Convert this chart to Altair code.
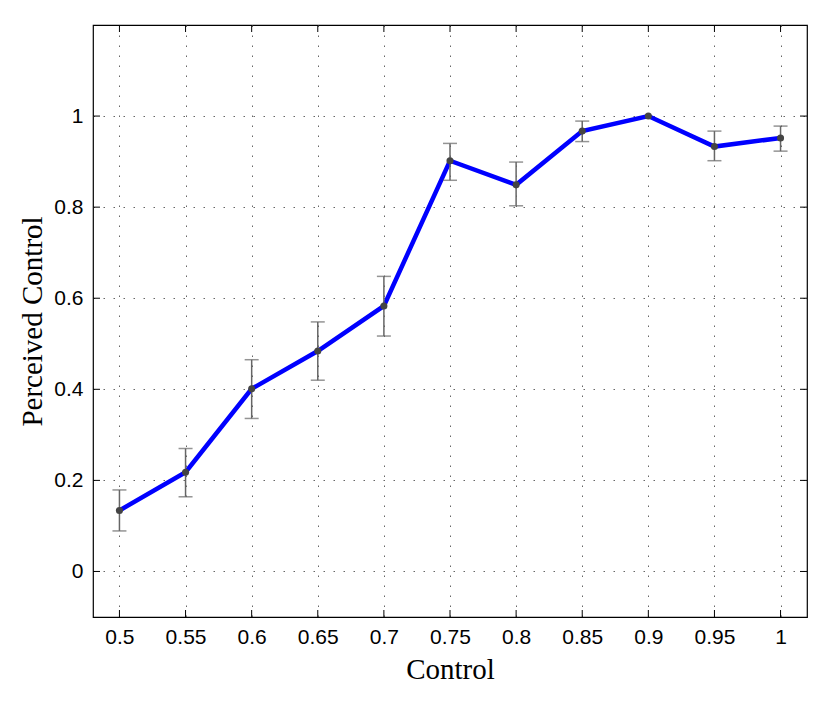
import altair as alt
import pandas as pd

control = [0.5, 0.55, 0.6, 0.65, 0.7, 0.75, 0.8, 0.85, 0.9, 0.95, 1.0]
perceived = [0.134, 0.218, 0.401, 0.484, 0.583, 0.902, 0.849, 0.967, 1.0, 0.933, 0.952]
err_hi = [0.179, 0.270, 0.465, 0.548, 0.648, 0.940, 0.899, 0.989, 1.0, 0.967, 0.978]
err_lo = [0.089, 0.164, 0.336, 0.420, 0.517, 0.859, 0.803, 0.944, 1.0, 0.902, 0.923]
x_ticks = [0.5, 0.55, 0.6, 0.65, 0.7, 0.75, 0.8, 0.85, 0.9, 0.95, 1.0]
y_ticks = [0, 0.2, 0.4, 0.6, 0.8, 1.0]

W, H = 714, 592

df = pd.DataFrame({"c": control, "p": perceived, "hi": err_hi, "lo": err_lo})
xt = pd.DataFrame({"t": x_ticks})
yt = pd.DataFrame({"t": y_ticks})

xs = alt.Scale(domain=[0.48, 1.02], nice=False, zero=False)
ys = alt.Scale(domain=[-0.1, 1.2], nice=False, zero=False)

x_axis = alt.Axis(values=x_ticks, title="Control",
                  labelExpr="datum.value == 1 ? '1' : format(datum.value, '.2~f')")
y_axis = alt.Axis(values=y_ticks, title="Perceived Control",
                  labelExpr="datum.value == 0 ? '0' : datum.value == 1 ? '1' : format(datum.value, '.1f')")

base = alt.Chart(df)

line = base.mark_line(color="#0000ff", strokeWidth=4.5).encode(
    x=alt.X("c:Q", scale=xs, axis=x_axis),
    y=alt.Y("p:Q", scale=ys, axis=y_axis),
)

eb = base.transform_filter("datum.hi > datum.lo")
ebar = eb.mark_rule(color="#666666", strokeWidth=1.5).encode(
    x="c:Q", y="lo:Q", y2="hi:Q"
)
cap_hi = eb.mark_tick(color="#666666", orient="horizontal", size=14, thickness=1.5).encode(
    x="c:Q", y="hi:Q")
cap_lo = eb.mark_tick(color="#666666", orient="horizontal", size=14, thickness=1.5).encode(
    x="c:Q", y="lo:Q")

pts = base.mark_point(filled=True, color="#444444", size=50, opacity=1).encode(x="c:Q", y="p:Q")

tick_len = 7
xtick_b = alt.Chart(xt).mark_rule(color="black", strokeWidth=1).encode(
    x=alt.X("t:Q", scale=xs), y=alt.value(H), y2=alt.value(H - tick_len))
xtick_t = alt.Chart(xt).mark_rule(color="black", strokeWidth=1).encode(
    x=alt.X("t:Q", scale=xs), y=alt.value(0), y2=alt.value(tick_len))
ytick_l = alt.Chart(yt).mark_rule(color="black", strokeWidth=1).encode(
    y=alt.Y("t:Q", scale=ys), x=alt.value(0), x2=alt.value(tick_len))
ytick_r = alt.Chart(yt).mark_rule(color="black", strokeWidth=1).encode(
    y=alt.Y("t:Q", scale=ys), x=alt.value(W), x2=alt.value(W - tick_len))

chart = alt.layer(line, ebar, cap_hi, cap_lo, pts, xtick_b, xtick_t, ytick_l, ytick_r).properties(
    width=W, height=H,
    padding={"left": 10, "top": 16, "right": 5, "bottom": 5},
).configure_view(
    stroke="black", strokeWidth=1.2
).configure_axis(
    domain=False,
    ticks=False,
    grid=True,
    gridColor="#666666",
    gridDash=[1.5, 8.5],
    gridWidth=1,
    labelFont="Liberation Sans",
    labelFontSize=21,
    labelColor="black",
    titleFont="Liberation Serif",
    titleFontSize=29,
    titleFontWeight="normal",
    titleColor="black",
).configure_axisX(
    titlePadding=8,
    labelPadding=9,
).configure_axisY(
    titlePadding=6,
    labelPadding=10,
)

chart.save("out.html", embed_options={"renderer": "svg", "actions": False})
